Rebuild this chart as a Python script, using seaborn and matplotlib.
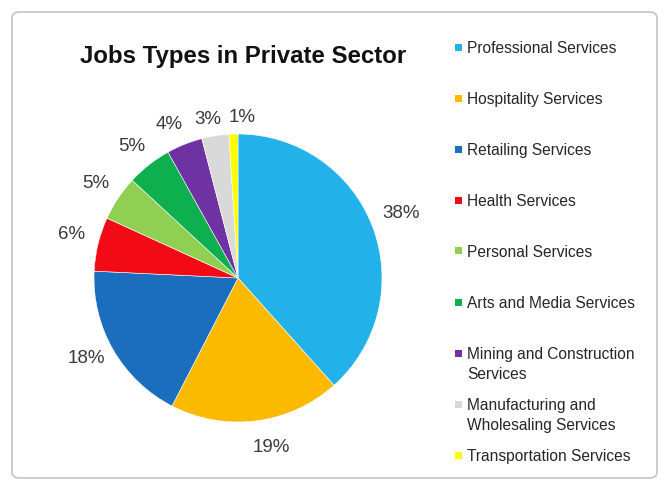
import matplotlib
matplotlib.use('Agg')
import matplotlib.pyplot as plt
from matplotlib.patches import FancyBboxPatch, Rectangle
import seaborn as sns

# data
categories = ['Professional Services', 'Hospitality Services', 'Retailing Services',
              'Health Services', 'Personal Services', 'Arts and Media Services',
              'Mining and Construction\nServices', 'Manufacturing and\nWholesaling Services',
              'Transportation Services']
shares = [38, 19, 18, 6, 5, 5, 4, 3, 1]
colors = ['#22B1E8', '#FBBA00', '#1A6EBD', '#F20A14', '#8FD052',
          '#0DAF4E', '#6E32A2', '#D9D9D9', '#FFFF00']

# small pixel nudges for crowded labels (layout only)
nudge_px = [(3, 3), (12, 0), (-3, 5), (0, 3), (0, 0), (0, -3), (-5, -6), (-3, -11), (10, -11)]

sns.set_theme(style='white')
plt.rcParams['font.family'] = ['Liberation Sans', 'DejaVu Sans']

W, H = 666, 491
R = 144
fig = plt.figure(figsize=(W / 100, H / 100), dpi=100)
fig.patch.set_facecolor('white')

# chart border
fig.patches.append(FancyBboxPatch((12 / W, 13 / H), 645 / W, 466 / H,
                                  boxstyle='round,pad=0,rounding_size=0.012',
                                  transform=fig.transFigure, facecolor='none',
                                  edgecolor='#C4C4C4', linewidth=1.2, zorder=-1))

# pie
ax = fig.add_axes([(238 - R) / W, (H - 278 - R) / H, 2 * R / W, 2 * R / H])
pal = sns.color_palette(colors)
wedges, texts, autotexts = ax.pie(shares, colors=pal, startangle=90, counterclock=False,
                                  autopct='%.0f%%', pctdistance=1.19,
                                  wedgeprops=dict(linewidth=0.4, edgecolor='white'),
                                  textprops=dict(fontsize=13.5, color='#3A3A3A'))
for t, (dx, dy) in zip(autotexts, nudge_px):
    x, y = t.get_position()
    t.set_position((x + dx / R, y + dy / R))
ax.set_aspect('equal')
ax.set_xlim(-1, 1)
ax.set_ylim(-1, 1)
ax.axis('off')

fig.text(80 / W, 1 - 56 / H, 'Jobs Types in Private Sector', fontsize=17.3,
         fontweight='bold', color='#111111', ha='left', va='center')

# legend, fixed slots like the spreadsheet one
for i, (name, c) in enumerate(zip(categories, pal)):
    yc = 47 + 51 * i
    fig.patches.append(Rectangle((455 / W, 1 - (yc + 3.5) / H), 7 / W, 7 / H,
                                 transform=fig.transFigure, facecolor=c,
                                 edgecolor='none'))
    fig.text(467 / W, 1 - (yc - 6) / H, name, fontsize=11.2, color='#262626',
             ha='left', va='top', linespacing=1.45)

fig.savefig('out.png', dpi=100)
